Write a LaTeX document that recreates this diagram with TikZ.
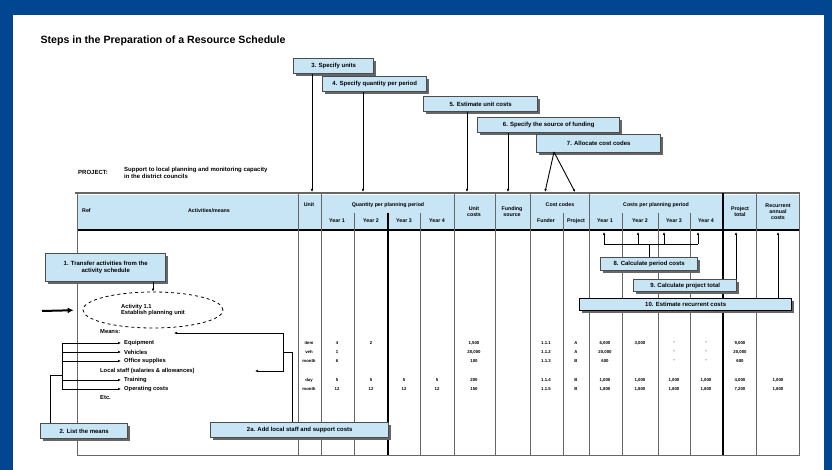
\documentclass[tikz,border=0pt]{standalone}
\usepackage{fontspec}
\setmainfont{Liberation Sans}
\usetikzlibrary{arrows.meta,shadows,shapes.geometric}
\definecolor{slideblue}{RGB}{0,70,145}
\definecolor{headblue}{RGB}{200,229,246}
\tikzset{
  stepbox/.style={draw=black!70,line width=1.4pt,fill=headblue,inner sep=1.5pt,
    font=\fontsize{6}{7}\selectfont\bfseries,minimum height=15pt,anchor=north west,
    drop shadow={shadow xshift=2.2pt,shadow yshift=-2.2pt,fill=black!60,opacity=1}},
  steparrow/.style={-{Latex[length=3pt,width=2.6pt]},line width=0.9pt},
  colline/.style={black!60,line width=0.8pt},
  headtxt/.style={font=\fontsize{5.3}{5.8}\selectfont\bfseries,align=center,inner sep=0pt},
  cellval/.style={font=\fontsize{4.3}{5}\selectfont\bfseries,inner sep=0pt},
  meansitem/.style={font=\fontsize{5.8}{6.5}\selectfont\bfseries,anchor=west,inner sep=0pt}
}
\begin{document}
\begin{tikzpicture}[x=1pt,y=-1pt]
\useasboundingbox (0,0) rectangle (832,470);
\fill[slideblue] (0,0) rectangle (832,470);
\fill[white] (13,15) rectangle (824,470);

\node[anchor=west,font=\fontsize{10.6}{12}\selectfont\bfseries] (title) at (37,41)
  {Steps in the Preparation of a Resource Schedule};
\node[anchor=west,font=\fontsize{6}{7}\selectfont\bfseries,inner sep=0pt] (proj) at (78,172) {PROJECT:};
\node[anchor=west,align=left,font=\fontsize{6}{6.8}\selectfont\bfseries,inner sep=0pt] (projname) at (124,173)
  {Support to local planning and monitoring capacity\\in the district councils};

% table frame and columns
\fill[headblue] (77,195) rectangle (799,229);
\draw[black!60,line width=1.5pt] (75,193) -- (800,193);
\draw[line width=1.5pt] (77,230) -- (799,230);
\draw[colline] (77,193) -- (77,455) -- (799,455) -- (799,193);
\foreach \cx in {298,321,454,495,530,589,756}
  \draw[colline] (\cx,193) -- (\cx,455);
\foreach \cx in {354,420,563,622,658,690}
  \draw[colline] (\cx,213) -- (\cx,455);
\draw[line width=1.3pt] (388,213) -- (388,455);
\draw[line width=1.3pt] (723,193) -- (723,455);

% header
\node[headtxt,anchor=west] (href) at (82,211) {Ref};
\node[headtxt] (hact) at (209,211) {Activities/means};
\node[headtxt] (hunit) at (309,205) {Unit};
\node[headtxt] (hqty) at (388,205) {Quantity per planning period};
\foreach \cx/\lbl in {337/Year 1,371/Year 2,404/Year 3,437/Year 4}
  \node[headtxt] (hq-\cx) at (\cx,221) {\lbl};
\node[headtxt] (hcost) at (474,212) {Unit\\costs};
\node[headtxt] (hfund) at (512,212) {Funding\\source};
\node[headtxt] (hcode) at (560,205) {Cost codes};
\foreach \cx/\lbl in {546/Funder,576/Project}
  \node[headtxt] (hc-\cx) at (\cx,221) {\lbl};
\node[headtxt] (hper) at (656,205) {Costs per planning period};
\foreach \cx/\lbl in {605/Year 1,640/Year 2,674/Year 3,706/Year 4}
  \node[headtxt] (hp-\cx) at (\cx,221) {\lbl};
\node[headtxt] (htot) at (740,212) {Project\\total};
\node[headtxt] (hrec) at (778,212) {Recurrent\\annual\\costs};

% values
\foreach \cx/\v in {309/item,337/4,371/2,474/{1,500},546/1.1.1,576/A,605/{6,000},640/{3,000},674/-,706/-,740/{9,000}}
  \node[cellval] (ra-\cx) at (\cx,343) {\v};
\foreach \cx/\v in {309/veh,337/1,474/{20,000},546/1.1.2,576/A,605/{20,000},674/-,706/-,740/{20,000}}
  \node[cellval] (rb-\cx) at (\cx,352) {\v};
\foreach \cx/\v in {309/month,337/6,474/100,546/1.1.3,576/B,605/600,674/-,706/-,740/600}
  \node[cellval] (rc-\cx) at (\cx,361) {\v};
\foreach \cx/\v in {309/day,337/5,371/5,404/5,437/5,474/200,546/1.1.4,576/B,605/{1,000},640/{1,000},674/{1,000},706/{1,000},740/{4,000},778/{1,000}}
  \node[cellval] (rd-\cx) at (\cx,380) {\v};
\foreach \cx/\v in {309/month,337/12,371/12,404/12,437/12,474/150,546/1.1.5,576/B,605/{1,800},640/{1,800},674/{1,800},706/{1,800},740/{7,200},778/{1,800}}
  \node[cellval] (re-\cx) at (\cx,389) {\v};

% steps above the table
\coordinate (cunit) at (312,192);
\coordinate (cqty) at (363,192);
\coordinate (cuc) at (467,192);
\coordinate (cfund) at (508,192);
\coordinate (ccode1) at (545,192);
\coordinate (ccode2) at (575,192);
\node[stepbox,minimum width=80pt] (s3) at (293,58) {3. Specify units};
\node[stepbox,minimum width=104pt] (s4) at (322,76) {4. Specify quantity per period};
\node[stepbox,minimum width=114pt] (s5) at (423,96) {5. Estimate unit costs};
\node[stepbox,minimum width=142pt] (s6) at (477,117) {6. Specify the source of funding};
\node[stepbox,minimum width=124pt,minimum height=18pt] (s7) at (536,134) {7. Allocate cost codes};
\coordinate (split) at (554,152);
\draw[steparrow,line width=0.6pt] (s3.south -| cunit) -- (cunit);
\draw[steparrow] (s4.south -| cqty) -- (cqty);
\draw[steparrow] (s5.south -| cuc) -- (cuc);
\draw[steparrow] (s6.south -| cfund) -- (cfund);
\draw[steparrow] (split) -- (ccode1);
\draw[steparrow] (split) -- (ccode2);

% steps below the header
\coordinate (cy1) at (604,232);
\coordinate (cy2) at (638,232);
\coordinate (cy3) at (664,232);
\coordinate (cy4) at (698,232);
\coordinate (bar1) at (604,244);
\coordinate (bar2) at (638,244);
\coordinate (bar3) at (664,244);
\coordinate (bar4) at (698,244);
\coordinate (ctot) at (736,232);
\coordinate (crec) at (778,232);
\draw[line width=0.8pt] (bar1) -- (bar4);
\foreach \i in {1,...,4}
  \draw[steparrow,line width=0.7pt] (bar\i) -- (cy\i);
\node[stepbox,minimum width=97pt,minimum height=13pt] (s8) at (600,257) {8. Calculate period costs};
\node[stepbox,minimum width=103pt,minimum height=12pt] (s9) at (633,279) {9. Calculate project total};
\node[stepbox,draw=black,minimum width=212pt,minimum height=12pt] (s10) at (579,298) {10. Estimate recurrent costs};
\draw[line width=0.8pt] (s8.north) -- (s8.north |- bar1);
\draw[steparrow] (s9.north -| ctot) -- (ctot);
\draw[steparrow] (s10.north -| crec) -- (crec);

% activities and means
\node[stepbox,minimum width=120pt,minimum height=28pt,align=center] (s1) at (45,253)
  {1. Transfer activities from the\\activity schedule};
\node[ellipse,draw,dashed,line width=0.8pt,minimum width=140pt,minimum height=36pt,
  align=left,font=\fontsize{5.8}{6.8}\selectfont\bfseries] (act) at (153,310)
  {Activity 1.1\\Establish planning unit};
\coordinate (inarr) at (42,311);
\draw[steparrow] (s1.south -| act.north) -- (act.north);
\draw[-{Latex[length=6pt,width=6pt]},line width=2pt,shorten >=9pt] (inarr) -- (act.west);

\node[meansitem] (means) at (100,332) {Means:};
\node[meansitem] (m1) at (124,343) {Equipment};
\node[meansitem] (m2) at (124,352) {Vehicles};
\node[meansitem] (m3) at (124,361) {Office supplies};
\node[meansitem] (m4) at (100,371) {Local staff (salaries \& allowances)};
\node[meansitem] (m5) at (124,380) {Training};
\node[meansitem] (m6) at (124,389) {Operating costs};
\node[meansitem] (m7) at (100,398) {Etc.};

\coordinate (brtop) at (62,343);
\coordinate (brbot) at (62,389);
\coordinate (brmid) at (62,375);
\draw[line width=1pt] (brtop) -- (brbot);
\foreach \m in {m1,m2,m3,m5,m6}
  \draw[steparrow,line width=0.8pt,shorten >=3pt] (brtop |- \m.west) -- (\m.west);

\node[stepbox,minimum width=87pt] (s2) at (40,423) {2. List the means};
\draw[line width=0.8pt] (s2.north west) ++(10,0) |- (brmid);

\node[stepbox,minimum width=178pt] (s2a) at (210,422) {2a. Add local staff and support costs};
\coordinate (fj) at (283,352);
\coordinate (meansend) at (174,333);
\coordinate (staffend) at (255,371);
\draw[line width=0.8pt] (s2a.north) ++(-7,0) |- (fj);
\draw[steparrow,line width=0.8pt] (fj) |- (meansend);
\draw[steparrow,line width=0.8pt] (fj) |- (staffend);
\end{tikzpicture}
\end{document}
